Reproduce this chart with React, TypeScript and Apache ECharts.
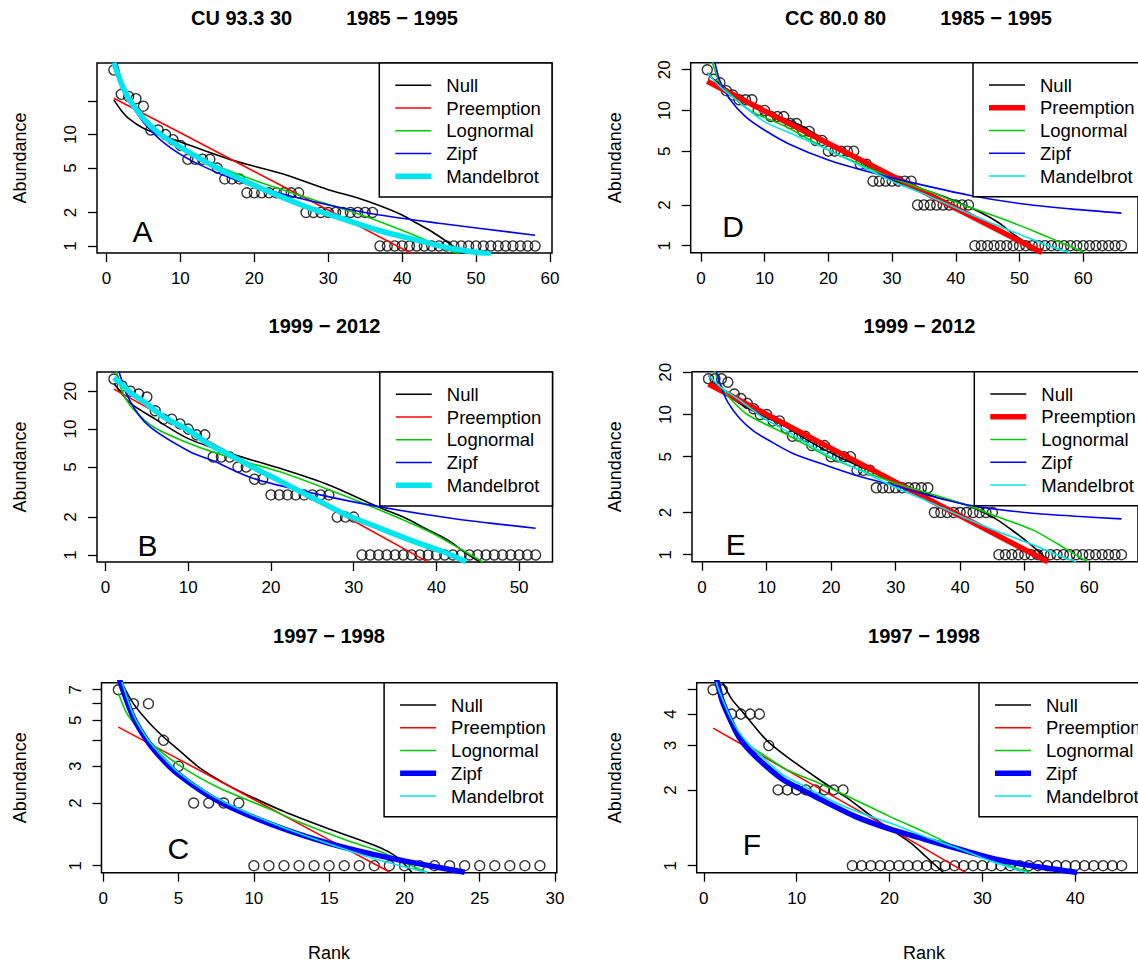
import React, { useEffect, useRef } from "react";
import * as echarts from "echarts";

const FONT = "'Liberation Sans', Arial, Helvetica, sans-serif";
const MODEL_NAMES = ["Null", "Preemption", "Lognormal", "Zipf", "Mandelbrot"];
const MODEL_COLORS = ["#000000", "#ff0000", "#00cd00", "#0000ff", "#00e5ee"];

// ---------- Panel A : CU 93.3 30, 1985 - 1995 ----------
const A_abund = [38, 23, 22, 21, 18, 11, 11, 10, 9, 8, 6, 6, 6, 6, 5, 4, 4, 4,
  3, 3, 3, 3, 3, 3, 3, 3,
  2, 2, 2, 2, 2, 2, 2, 2, 2, 2,
  1, 1, 1, 1, 1, 1, 1, 1, 1, 1, 1, 1, 1, 1, 1, 1, 1, 1, 1, 1, 1, 1];
const A_null = [[1, 20.5], [2, 16.5], [3, 14], [5, 11.4], [7.5, 9.8], [10, 8.6], [13.5, 7.1], [17, 5.9], [20, 5.2], [24, 4.4], [30, 3.2], [34, 2.7], [37, 2.3], [40, 1.9], [42, 1.6], [44, 1.35], [46, 1.1], [48.3, 0.85]];
const A_pre = [[1, 21.2], [10, 10.4], [20, 4.67], [30, 2.1], [41.5, 0.84]];
const A_logn = [[1, 43], [1.5, 33], [2, 27], [3, 20], [5, 14], [7, 10.5], [10, 7.8], [14.5, 5.4], [20, 3.9], [28, 2.6], [33, 2.05], [37, 1.65], [41, 1.3], [44, 1.07], [47.8, 0.84]];
const A_zipf = [[1, 59], [2, 30.7], [3, 20.9], [5, 12.9], [8, 8.2], [12, 5.6], [18, 3.8], [25, 2.8], [35, 2.0], [45, 1.6], [58, 1.25]];
const A_mand = [[1, 44], [2, 29], [3, 21], [5, 14], [7, 10.4], [10, 7.7], [15, 5.0], [20, 3.5], [27, 2.25], [32, 1.75], [37, 1.37], [42, 1.13], [46, 0.97], [52, 0.84]];

// ---------- Panel B : 1999 - 2012 ----------
const B_abund = [25, 22, 20, 19, 18, 14, 12, 12, 11, 10, 9, 9, 6, 6, 6, 5, 5, 4, 4,
  3, 3, 3, 3, 3, 3, 3, 3,
  2, 2, 2,
  1, 1, 1, 1, 1, 1, 1, 1, 1, 1, 1, 1, 1, 1, 1, 1, 1, 1, 1, 1, 1, 1];
const B_null = [[1, 23], [2, 19], [3, 16], [6, 12], [10, 8.4], [15.4, 6.3], [21, 4.9], [27, 3.6], [33, 2.4], [36, 2.0], [39, 1.58], [41.5, 1.3], [43.6, 1.03], [45.3, 0.88]];
const B_pre = [[1, 20.8], [10, 9.8], [20, 4.28], [30, 1.86], [38.9, 0.885]];
const B_logn = [[1, 33], [1.3, 28.7], [2, 20], [3.3, 14.5], [6, 10.2], [11, 7.3], [16, 5.7], [21, 4.6], [27, 3.3], [33, 2.3], [39, 1.55], [43.6, 1.05], [45.6, 0.88]];
const B_zipf = [[1, 43], [1.6, 28.7], [3, 16.5], [5.3, 10.5], [10.2, 6.6], [13, 5.6], [17.8, 4.07], [25, 3.1], [33, 2.42], [42, 1.95], [52, 1.63]];
const B_mand = [[1, 25.5], [2, 22.5], [3, 19.5], [4.9, 16], [7, 12.5], [9.9, 9.9], [12.5, 7.6], [15.4, 6.05], [18, 4.9], [21, 3.9], [25, 2.85], [29, 2.1], [33, 1.65], [37, 1.3], [40.5, 1.08], [43.6, 0.885]];

// ---------- Panel C : 1997 - 1998 ----------
const C_abund = [7, 6, 6, 4, 3, 2, 2, 2, 2,
  1, 1, 1, 1, 1, 1, 1, 1, 1, 1, 1, 1, 1, 1, 1, 1, 1, 1, 1, 1];
const C_null = [[1, 8.4], [1.22, 7.59], [2, 6.0], [3, 4.9], [4, 4.15], [5, 3.6], [6.4, 2.95], [8, 2.5], [9.5, 2.2], [12, 1.82], [15, 1.5], [18.4, 1.22], [19.5, 1.1], [20.5, 0.93]];
const C_pre = [[1, 4.63], [5, 3.25], [10, 2.08], [15, 1.33], [19.05, 0.93]];
const C_logn = [[1, 6.75], [1.5, 5.5], [2.2, 4.67], [3.5, 3.7], [5, 3.05], [7.5, 2.4], [10.9, 1.89], [13, 1.62], [16.2, 1.32], [18.4, 1.17], [20.2, 1.02], [21.5, 0.93]];
const C_zipf = [[1, 8.3], [1.22, 7.25], [2, 5.15], [3, 3.9], [4, 3.2], [5, 2.74], [7, 2.17], [9, 1.83], [12, 1.5], [15, 1.28], [18, 1.13], [21, 1.02], [24, 0.93]];
const C_mand = [[1, 8.8], [1.25, 7.59], [2, 5.3], [3, 4.0], [4, 3.3], [5, 2.8], [7, 2.22], [9, 1.87], [12, 1.52], [15, 1.27], [18, 1.08], [21.5, 0.93]];

// ---------- Panel D : CC 80.0 80, 1985 - 1995 ----------
const D_abund = [20, 17, 16, 14, 13, 12, 12, 12, 10, 10, 9, 9, 9, 8, 8, 7, 7, 6, 6, 5, 5, 5, 5, 5, 4, 4,
  3, 3, 3, 3, 3, 3, 3,
  2, 2, 2, 2, 2, 2, 2, 2, 2,
  1, 1, 1, 1, 1, 1, 1, 1, 1, 1, 1, 1, 1, 1, 1, 1, 1, 1, 1, 1, 1, 1, 1, 1];
const D_null = [[1, 19], [2, 17], [4, 14.5], [7, 12], [11, 9.5], [15.5, 7.8], [22, 5.1], [30, 3.07], [36, 2.5], [40, 2.13], [44, 1.75], [46.8, 1.47], [49, 1.22], [51.8, 0.99], [52.9, 0.89]];
const D_pre = [[1, 16.4], [10, 9.9], [20, 5.7], [30, 3.28], [40, 1.89], [53.5, 0.89]];
const D_logn = [[1, 30], [1.8, 22.6], [3, 16], [4.9, 12.7], [8, 9.8], [13.3, 7.6], [20, 5.1], [25, 4.0], [30, 3.16], [36, 2.5], [41.2, 2.0], [47, 1.6], [52.3, 1.28], [56, 1.08], [60.2, 0.89]];
const D_zipf = [[1, 40], [2.2, 22.6], [3, 16.5], [4.6, 12], [7, 9.0], [9.9, 7.2], [14, 5.6], [20, 4.3], [26, 3.55], [32.8, 2.95], [42.3, 2.35], [50, 2.05], [58, 1.87], [66, 1.74]];
const D_mand = [[1, 19], [3, 15], [6, 11.5], [9.9, 8.3], [15, 6.5], [20, 5.1], [25, 3.9], [30, 3.0], [36, 2.3], [41.2, 1.8], [47, 1.38], [52.3, 1.1], [55, 0.98], [57.9, 0.89]];

// ---------- Panel E : 1999 - 2012 ----------
const E_abund = [18, 18, 18, 17, 14, 13, 12, 11, 10, 10, 9, 9, 8, 7, 7, 7, 6, 6, 6, 5, 5, 5, 5, 4, 4, 4,
  3, 3, 3, 3, 3, 3, 3, 3, 3,
  2, 2, 2, 2, 2, 2, 2, 2, 2, 2,
  1, 1, 1, 1, 1, 1, 1, 1, 1, 1, 1, 1, 1, 1, 1, 1, 1, 1, 1, 1];
const E_null = [[1, 19], [3, 15], [5.8, 12], [9, 10], [12.9, 8.2], [17, 6.3], [21.7, 4.85], [27, 3.8], [32.1, 3.04], [36, 2.6], [40.4, 2.31], [45, 1.86], [48, 1.5], [51.4, 1.13], [53.8, 0.89]];
const E_pre = [[1, 16.5], [10, 10], [20, 5.73], [30, 3.29], [40, 1.89], [53.6, 0.89]];
const E_logn = [[1, 27], [1.9, 20.4], [3, 16], [4.1, 13.4], [7, 10], [12.9, 7.3], [19.5, 5.0], [25, 3.95], [29.4, 3.3], [35, 2.75], [40.4, 2.31], [46, 1.85], [51.4, 1.49], [55, 1.2], [58.5, 0.96], [59.9, 0.89]];
const E_zipf = [[1, 30], [2.2, 20.4], [3, 15.5], [4, 12.2], [5.8, 9.4], [8, 7.6], [10.2, 6.6], [14, 5.3], [19.5, 4.3], [25, 3.55], [29.4, 3.15], [35, 2.65], [41.5, 2.25], [50, 2.0], [58, 1.88], [65, 1.8]];
const E_mand = [[1, 19], [3, 15.5], [5.8, 12.7], [9, 9.8], [12.9, 7.7], [19.5, 5.1], [25, 3.9], [29.4, 3.1], [35, 2.4], [40.4, 1.86], [46, 1.45], [51.4, 1.17], [55, 1.0], [58, 0.89]];

// ---------- Panel F : 1997 - 1998 ----------
const F_abund = [5, 5, 4, 4, 4, 4, 3,
  2, 2, 2, 2, 2, 2, 2, 2,
  1, 1, 1, 1, 1, 1, 1, 1, 1, 1, 1, 1, 1, 1, 1, 1, 1, 1, 1, 1, 1, 1, 1, 1, 1, 1, 1, 1, 1, 1];
const F_null = [[1, 6.4], [2.1, 5.28], [3, 4.6], [4, 4.15], [5, 3.75], [6.8, 3.14], [9, 2.7], [12.5, 2.19], [15.5, 1.85], [18.6, 1.52], [22.3, 1.23], [24, 1.08], [25.8, 0.94]];
const F_pre = [[1, 3.52], [10, 2.28], [20, 1.41], [28.2, 0.94]];
const F_logn = [[1, 6.5], [1.3, 5.28], [2, 4.5], [3, 3.7], [4.5, 3.1], [6.8, 2.7], [9, 2.4], [12.5, 2.12], [16, 1.85], [20, 1.57], [24, 1.35], [27.7, 1.16], [31, 1.05], [35.2, 0.94]];
const F_zipf = [[1, 6.3], [1.5, 5.28], [2, 4.5], [3, 3.7], [3.8, 3.24], [5, 2.85], [6.8, 2.47], [8.5, 2.2], [10.6, 2.0], [13, 1.8], [16.3, 1.57], [20, 1.4], [23.9, 1.27], [28, 1.15], [31.4, 1.06], [36, 0.99], [40.2, 0.94]];
const F_mand = [[1, 6.5], [1.4, 5.28], [2, 4.6], [3, 3.8], [3.8, 3.39], [5, 3.0], [6.8, 2.6], [8.5, 2.3], [10.6, 2.09], [13, 1.87], [16.3, 1.65], [20, 1.48], [23.9, 1.3], [27.7, 1.16], [31, 1.04], [34.8, 0.94]];

// ---------- ticks ----------
const A_xTicks = [0, 10, 20, 30, 40, 50, 60];
const B_xTicks = [0, 10, 20, 30, 40, 50];
const C_xTicks = [0, 5, 10, 15, 20, 25, 30];
const D_xTicks = [0, 10, 20, 30, 40, 50, 60];
const E_xTicks = [0, 10, 20, 30, 40, 50, 60];
const F_xTicks = [0, 10, 20, 30, 40];
const A_yTicks = [1, 2, 5, 10, 20];
const A_yLabels = [1, 2, 5, 10];
const B_yTicks = [1, 2, 5, 10, 20];
const B_yLabels = [1, 2, 5, 10, 20];
const C_yTicks = [1, 2, 3, 4, 5, 6, 7];
const C_yLabels = [1, 2, 3, 5, 7];
const D_yTicks = [1, 2, 5, 10, 20];
const D_yLabels = [1, 2, 5, 10, 20];
const E_yTicks = [1, 2, 5, 10, 20];
const E_yLabels = [1, 2, 5, 10, 20];
const F_yTicks = [1, 2, 3, 4, 5];
const F_yLabels = [1, 2, 3, 4];

// ---------- texts ----------
const TITLE_1_LEFT = ["CU 93.3 30", "1985 − 1995"];
const TITLE_1_RIGHT = ["CC 80.0 80", "1985 − 1995"];
const TITLE_2 = "1999 − 2012";
const TITLE_3 = "1997 − 1998";
const Y_NAME = "Abundance";
const X_NAME = "Rank";

// ---------- layout (pixels) ----------
const GRIDS = [
  { left: 97, top: 63, width: 455, height: 190 },
  { left: 97, top: 372, width: 455.5, height: 190 },
  { left: 101.5, top: 682.7, width: 455.3, height: 190 },
  { left: 690.7, top: 62.7, width: 455, height: 190 },
  { left: 692, top: 371.7, width: 455, height: 190 },
  { left: 696.7, top: 682.7, width: 455, height: 190 },
];
const LETTER_POS = [[142.5, 231.7], [147.5, 545.8], [178.3, 848.3], [733, 226], [735.7, 544.2], [752, 844]];

const PANELS = [
  { letter: "A", abund: A_abund, curves: [A_null, A_pre, A_logn, A_zipf, A_mand], thick: 4, xTicks: A_xTicks, yTicks: A_yTicks, yLabels: A_yLabels },
  { letter: "B", abund: B_abund, curves: [B_null, B_pre, B_logn, B_zipf, B_mand], thick: 4, xTicks: B_xTicks, yTicks: B_yTicks, yLabels: B_yLabels },
  { letter: "C", abund: C_abund, curves: [C_null, C_pre, C_logn, C_zipf, C_mand], thick: 3, xTicks: C_xTicks, yTicks: C_yTicks, yLabels: C_yLabels },
  { letter: "D", abund: D_abund, curves: [D_null, D_pre, D_logn, D_zipf, D_mand], thick: 1, xTicks: D_xTicks, yTicks: D_yTicks, yLabels: D_yLabels },
  { letter: "E", abund: E_abund, curves: [E_null, E_pre, E_logn, E_zipf, E_mand], thick: 1, xTicks: E_xTicks, yTicks: E_yTicks, yLabels: E_yLabels },
  { letter: "F", abund: F_abund, curves: [F_null, F_pre, F_logn, F_zipf, F_mand], thick: 3, xTicks: F_xTicks, yTicks: F_yTicks, yLabels: F_yLabels },
];

const lg = (v: number) => Math.log10(v);

function buildOption() {
  const grid: any[] = [];
  const xAxis: any[] = [];
  const yAxis: any[] = [];
  const series: any[] = [];
  const elements: any[] = [];

  PANELS.forEach((p, i) => {
    const g = GRIDS[i];
    grid.push({ ...g, show: true, borderColor: "#000", borderWidth: 1.5, backgroundColor: "transparent", containLabel: false });
    const n = p.abund.length;
    const L = lg(Math.max(...p.abund));
    xAxis.push({
      type: "value", gridIndex: i,
      min: 1 - 0.04 * (n - 1), max: n + 0.04 * (n - 1),
      splitLine: { show: false }, axisLine: { show: false, onZero: false },
      axisTick: { show: true, length: 9, lineStyle: { color: "#000", width: 1.3 }, customValues: p.xTicks },
      axisLabel: { show: true, margin: 17, fontSize: 17, fontFamily: FONT, color: "#000", customValues: p.xTicks },
    });
    yAxis.push({
      type: "value", gridIndex: i,
      min: -0.04 * L, max: 1.04 * L,
      splitLine: { show: false }, axisLine: { show: false, onZero: false },
      axisTick: { show: true, length: 9, lineStyle: { color: "#000", width: 1.3 }, customValues: p.yTicks.map(lg) },
      axisLabel: {
        show: true, margin: 18, rotate: 90, fontSize: 17, fontFamily: FONT, color: "#000",
        customValues: p.yLabels.map(lg),
        formatter: (v: number) => String(Math.round(Math.pow(10, v))),
      },
    });
    series.push({
      type: "scatter", xAxisIndex: i, yAxisIndex: i, silent: true,
      symbol: "circle", symbolSize: 10,
      itemStyle: { color: "rgba(0,0,0,0)", borderColor: "#000", borderWidth: 1.4 },
      data: p.abund.map((v, k) => [k + 1, lg(v)]),
    });
    p.curves.forEach((c, m) => {
      series.push({
        type: "line", name: MODEL_NAMES[m], xAxisIndex: i, yAxisIndex: i, silent: true,
        showSymbol: false, symbol: "none", smooth: m === 1 ? false : 0.3, clip: true,
        lineStyle: { color: MODEL_COLORS[m], width: m === p.thick ? 5.5 : 1.6 },
        data: c.map(([r, v]) => [r, lg(v)]),
      });
    });

    // legend box
    const lw = 172.7;
    const lx = g.left + g.width - lw;
    const ly = g.top;
    elements.push({ type: "rect", z: 100, shape: { x: lx, y: ly, width: lw, height: 134 }, style: { fill: "#fff", stroke: "#000", lineWidth: 1.5 } });
    MODEL_NAMES.forEach((name, m) => {
      const yy = ly + 22.3 + m * 22.75;
      elements.push({ type: "line", z: 101, shape: { x1: lx + 16, y1: yy, x2: lx + 52, y2: yy }, style: { stroke: MODEL_COLORS[m], lineWidth: m === p.thick ? 5.5 : 1.6 } });
      elements.push({ type: "text", z: 101, x: lx + 67, y: yy, style: { text: name, fontSize: 18.5, fontFamily: FONT, fill: "#000", textVerticalAlign: "middle", textAlign: "left" } });
    });
    // panel letter
    elements.push({ type: "text", z: 101, x: LETTER_POS[i][0], y: LETTER_POS[i][1], style: { text: p.letter, fontSize: 30, fontFamily: FONT, fill: "#000", textAlign: "center", textVerticalAlign: "middle" } });
    // y axis name
    elements.push({ type: "text", z: 101, x: i < 3 ? 20 : 615, y: g.top + g.height / 2, rotation: Math.PI / 2, style: { text: Y_NAME, fontSize: 18, fontFamily: FONT, fill: "#000", textAlign: "center", textVerticalAlign: "middle" } });
  });

  // titles
  const tStyle = { fontSize: 20, fontWeight: "bold", fontFamily: FONT, fill: "#000", textVerticalAlign: "middle" };
  elements.push({ type: "text", x: 191, y: 18, style: { ...tStyle, text: TITLE_1_LEFT[0], textAlign: "left" } });
  elements.push({ type: "text", x: 458, y: 18, style: { ...tStyle, text: TITLE_1_LEFT[1], textAlign: "right" } });
  elements.push({ type: "text", x: 785, y: 18, style: { ...tStyle, text: TITLE_1_RIGHT[0], textAlign: "left" } });
  elements.push({ type: "text", x: 1052, y: 18, style: { ...tStyle, text: TITLE_1_RIGHT[1], textAlign: "right" } });
  elements.push({ type: "text", x: 324.5, y: 326, style: { ...tStyle, text: TITLE_2, textAlign: "center" } });
  elements.push({ type: "text", x: 919.5, y: 326, style: { ...tStyle, text: TITLE_2, textAlign: "center" } });
  elements.push({ type: "text", x: 329, y: 636, style: { ...tStyle, text: TITLE_3, textAlign: "center" } });
  elements.push({ type: "text", x: 924, y: 636, style: { ...tStyle, text: TITLE_3, textAlign: "center" } });
  // x names
  elements.push({ type: "text", x: 329, y: 953, style: { text: X_NAME, fontSize: 18, fontFamily: FONT, fill: "#000", textAlign: "center", textVerticalAlign: "middle" } });
  elements.push({ type: "text", x: 924, y: 953, style: { text: X_NAME, fontSize: 18, fontFamily: FONT, fill: "#000", textAlign: "center", textVerticalAlign: "middle" } });

  return {
    animation: false,
    backgroundColor: "#fff",
    grid, xAxis, yAxis, series,
    graphic: { elements },
  };
}

export default function App() {
  const ref = useRef<HTMLDivElement>(null);
  useEffect(() => {
    if (!ref.current) return;
    const chart = echarts.init(ref.current, null, { renderer: "svg" });
    chart.setOption(buildOption() as any);
    return () => chart.dispose();
  }, []);
  return <div ref={ref} style={{ position: "absolute", left: 0, top: 0, width: 1138, height: 963, background: "#fff" }} />;
}
